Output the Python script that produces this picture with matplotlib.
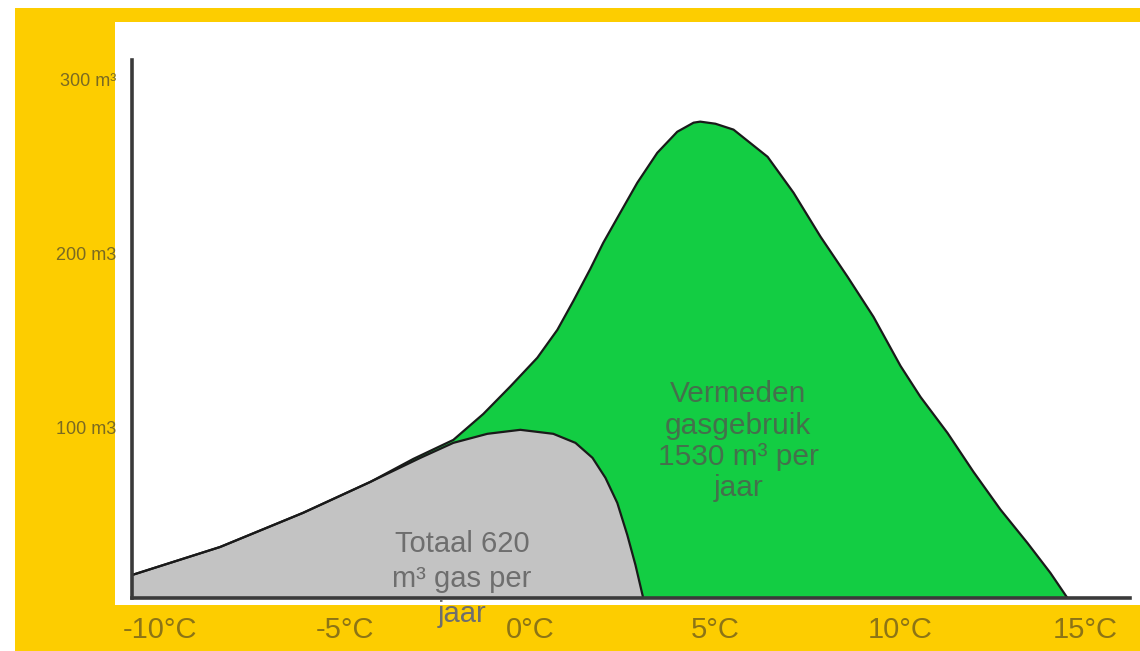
import matplotlib
matplotlib.use("Agg")
import matplotlib.pyplot as plt
from matplotlib.patches import Rectangle
from matplotlib.transforms import ScaledTranslation

plt.rcParams['font.family'] = ['Liberation Sans', 'DejaVu Sans']

# ---- data (temperature in °C, gas use in m³) ----
gray_temp = [-10.76, -8.38, -6.14, -4.32, -2.97, -2.08, -1.16, -0.27, 0.62, 1.22, 1.68, 2.03,
             2.35, 2.62, 2.84, 3.05]
gray_gas  = [13.2, 29.3, 48.9, 66.7, 80.5, 89.1, 94.3, 96.6, 94.3, 89.1, 80.5, 69.0,
             54.6, 36.2, 19.0, 0.0]

green_temp = [-10.76, -8.38, -6.14, -4.32, -3.16, -2.08, -1.27, -0.54, 0.19, 0.73, 1.16, 1.62,
              1.97, 2.43, 2.89, 3.43, 3.97, 4.41, 4.59, 5.00, 5.49, 6.41, 7.11, 7.84, 8.57,
              9.27, 10.0, 10.54, 11.27, 11.97, 12.70, 13.43, 14.05, 14.51]
green_gas  = [13.2, 29.3, 48.9, 66.7, 79.9, 90.8, 105.7, 121.5, 138.0, 154.0, 170.5, 189.0,
              204.0, 221.3, 238.5, 255.7, 267.8, 273.0, 273.6, 272.4, 269.0, 253.4, 232.8, 207.5, 184.5,
              161.5, 133.3, 115.5, 94.8, 72.5, 50.8, 31.6, 14.4, 0.0]

x_ticks = [-10, -5, 0, 5, 10, 15]
x_labels = ['-10°C', '-5°C', '0°C', '5°C', '10°C', '15°C']
y_ticks = [100, 200, 300]
y_labels = ['100 m3', '200 m3', '300 m³']

label_gray_lines = ['Totaal 620', 'm³ gas per', 'jaar']
label_green = 'Vermeden\ngasgebruik\n1530 m³ per\njaar'

W, H = 1140, 651
fig = plt.figure(figsize=(W / 100, H / 100), dpi=100, facecolor='white')

# background panels
bg = fig.add_axes([0, 0, 1, 1], zorder=-1)
bg.set_xlim(0, W)
bg.set_ylim(H, 0)
bg.axis('off')
bg.add_patch(Rectangle((15, 8), W - 15, H - 8, facecolor='#FDCD00', edgecolor='none'))
bg.add_patch(Rectangle((115, 22), W - 115, 605 - 22, facecolor='white', edgecolor='none'))

ax = fig.add_axes([132 / W, (H - 598) / H, (1130 - 132) / W, (598 - 60) / H], zorder=1)
ax.set_facecolor('none')
ax.set_xlim(-10.76, 16.2)
ax.set_ylim(0, 309)

ax.fill_between(green_temp, 0, green_gas, facecolor='#13CD43', edgecolor='none', zorder=2)
ax.fill_between(gray_temp, 0, gray_gas, facecolor='#C3C3C3', edgecolor='none', zorder=3)
ax.plot(green_temp, green_gas, color='#1a1a1a', lw=1.6, zorder=4, solid_joinstyle='round')
ax.plot(gray_temp, gray_gas, color='#1a1a1a', lw=1.6, zorder=4, solid_joinstyle='round')

for s in ['top', 'right']:
    ax.spines[s].set_visible(False)
for s in ['left', 'bottom']:
    ax.spines[s].set_color('#3a3a3a')
    ax.spines[s].set_linewidth(2.6)
    ax.spines[s].set_zorder(5)

ax.set_xticks(x_ticks)
ax.set_xticklabels(x_labels, fontsize=21, color='#8C7416')
ax.set_yticks(y_ticks)
ax.set_yticklabels(y_labels, fontsize=13, color='#7A6A22')
ax.tick_params(axis='x', length=0, pad=13)
ax.tick_params(axis='y', length=0, pad=11)
shift = ScaledTranslation(0, -4 / 100, fig.dpi_scale_trans)
for lab in ax.get_yticklabels():
    lab.set_transform(lab.get_transform() + shift)

# gray label, one text per line (baselines ~35 px apart)
line_step = 35 / 1.74
for i, line in enumerate(label_gray_lines):
    ax.text(-1.85, 26.4 - i * line_step, line, ha='center', va='baseline', fontsize=21,
            color='#6E6E6E', zorder=6, clip_on=False)

ax.text(5.62, 90, label_green, ha='center', va='center', fontsize=21.5, color='#44704C',
        linespacing=1.15, zorder=6, clip_on=False)

fig.savefig('out.png', dpi=100, facecolor=fig.get_facecolor())
